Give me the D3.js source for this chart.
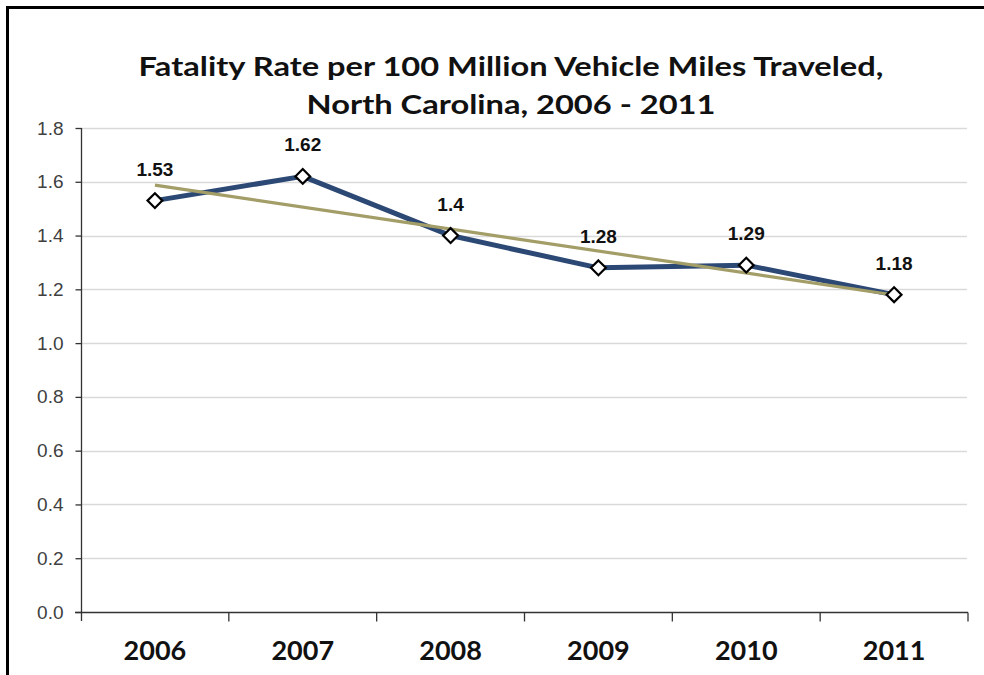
<!DOCTYPE html>
<html>
<head>
<meta charset="utf-8">
<script src="https://cdn.jsdelivr.net/npm/d3@7"></script>
<style>
  html, body { margin: 0; padding: 0; background: #fff; }
  svg { display: block; }
</style>
</head>
<body>
<svg id="chart" width="984" height="675"></svg>
<script>
// Fatality rate per 100 million vehicle miles traveled, North Carolina
const years = ["2006", "2007", "2008", "2009", "2010", "2011"];
const rates = [1.53, 1.62, 1.4, 1.28, 1.29, 1.18];
const yTicks = [0, 0.2, 0.4, 0.6, 0.8, 1.0, 1.2, 1.4, 1.6, 1.8];
const titleLines = ["Fatality Rate per 100 Million Vehicle Miles Traveled,", "North Carolina, 2006 - 2011"];

const svg = d3.select("#chart");
const W = 984, H = 675;
const plot = { left: 81, right: 968, top: 128, bottom: 612 };

// outer frame
svg.append("path")
  .attr("d", `M7.5,${H + 5} V7.5 H${W + 5}`)
  .attr("fill", "none").attr("stroke", "#000").attr("stroke-width", 3);

// title, widened to span the chart
const titleCx = 511;
const titleG = svg.append("g");
const titleTexts = titleG.selectAll("text").data(titleLines).join("text")
  .attr("x", 0).attr("y", (d, i) => 76 + i * 38)
  .attr("text-anchor", "middle")
  .attr("font-family", "Lato, 'Open Sans', sans-serif")
  .attr("font-weight", "bold").attr("font-size", 27).attr("fill", "#111")
  .text(d => d);
const w0 = titleTexts.node().getComputedTextLength();
const sx = 745 / w0;
titleG.attr("transform", `translate(${titleCx},0) scale(${sx},1)`);

const x = d3.scaleBand().domain(years).range([plot.left, plot.right]);
const y = d3.scaleLinear().domain([0, 1.8]).range([plot.bottom, plot.top]);

// horizontal gridlines
svg.append("g").selectAll("line").data(yTicks.slice(1)).join("line")
  .attr("x1", plot.left).attr("x2", plot.right - 1)
  .attr("y1", d => Math.round(y(d)) + 0.5).attr("y2", d => Math.round(y(d)) + 0.5)
  .attr("stroke", "#d9d9d9").attr("stroke-width", 1.5);

// y axis
const yAxis = svg.append("g").attr("transform", `translate(${plot.left + 0.5},0)`)
  .call(d3.axisLeft(y).tickValues(yTicks).tickFormat(d3.format(".1f")).tickSize(6).tickPadding(12));
yAxis.select(".domain").attr("stroke", "#333").attr("stroke-width", 1.3)
  .attr("d", `M0,${plot.top}V${plot.bottom + 9}`);
yAxis.selectAll(".tick line").attr("stroke", "#333").attr("stroke-width", 1.3);
yAxis.selectAll(".tick text")
  .attr("font-family", "'Liberation Sans', Arial, sans-serif")
  .attr("font-size", 19).attr("fill", "#404040");

// x axis with ticks between categories
const xAxis = svg.append("g").attr("transform", `translate(0,${plot.bottom + 0.5})`);
xAxis.append("line").attr("x1", plot.left - 6).attr("x2", plot.right)
  .attr("stroke", "#333").attr("stroke-width", 1.3);
const bounds = years.map(d => x(d)).concat([x(years[years.length - 1]) + x.bandwidth()]);
xAxis.selectAll("line.tk").data(bounds.slice(1)).join("line").attr("class", "tk")
  .attr("x1", d => d).attr("x2", d => d).attr("y1", 0).attr("y2", 9)
  .attr("stroke", "#333").attr("stroke-width", 1.3);
xAxis.selectAll("text").data(years).join("text")
  .attr("x", d => x(d) + x.bandwidth() / 2).attr("y", 47)
  .attr("text-anchor", "middle")
  .attr("font-family", "Lato, 'Open Sans', sans-serif")
  .attr("font-weight", "bold").attr("font-size", 27).attr("fill", "#111")
  .text(d => d);

const cx = d => x(d) + x.bandwidth() / 2;

// linear trend line (least squares)
const n = rates.length;
const xs = d3.range(n);
const mx = d3.mean(xs), my = d3.mean(rates);
const slope = d3.sum(xs, i => (i - mx) * (rates[i] - my)) / d3.sum(xs, i => (i - mx) ** 2);
const icpt = my - slope * mx;

// data line
svg.append("path").datum(years)
  .attr("d", d3.line().x(cx).y((d, i) => y(rates[i])))
  .attr("fill", "none").attr("stroke", "#2c4874").attr("stroke-width", 5)
  .attr("stroke-linejoin", "round");

svg.append("line")
  .attr("x1", cx(years[0])).attr("y1", y(icpt))
  .attr("x2", cx(years[n - 1])).attr("y2", y(icpt + slope * (n - 1)))
  .attr("stroke", "#a39d68").attr("stroke-width", 3.2);

// diamond markers
const diamond = d3.symbol().type(d3.symbolDiamond2).size(140);
svg.append("g").selectAll("path").data(years).join("path")
  .attr("transform", (d, i) => `translate(${cx(d)},${y(rates[i])})`)
  .attr("d", diamond)
  .attr("fill", "#fff").attr("stroke", "#000").attr("stroke-width", 2.2);

// value labels
svg.append("g").selectAll("text").data(years).join("text")
  .attr("x", cx).attr("y", (d, i) => y(rates[i]) - 25)
  .attr("text-anchor", "middle")
  .attr("font-family", "'Liberation Sans', Arial, sans-serif")
  .attr("font-weight", "bold").attr("font-size", 19).attr("fill", "#111")
  .text((d, i) => String(rates[i]));
</script>
</body>
</html>
